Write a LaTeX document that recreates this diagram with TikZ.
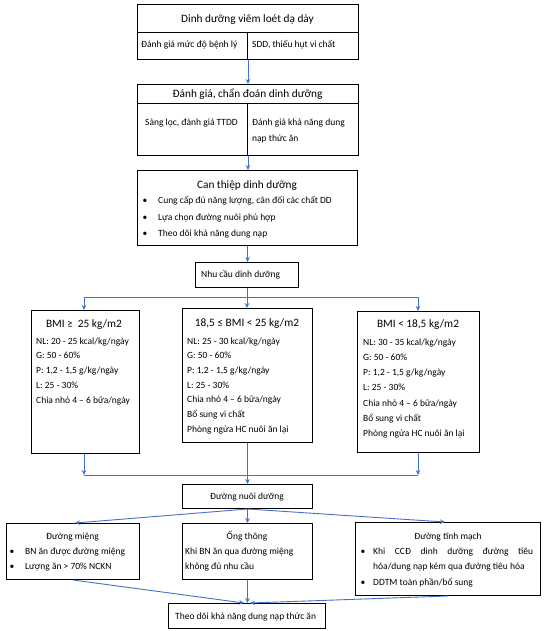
\documentclass[tikz,border=0pt]{standalone}
\usepackage{fontspec}
\setmainfont{Carlito}
\usetikzlibrary{arrows.meta}
\definecolor{arrowblue}{HTML}{4472C4}
\begin{document}
\begin{tikzpicture}[x=1pt,y=-1pt,
  box/.style={draw=black, line width=1pt, inner sep=0pt, anchor=north west, fill=white},
  conn/.style={draw=arrowblue, line width=0.9pt},
  arr/.style={conn, -{Stealth[length=5pt,width=4.5pt]}},
  txt/.style={inner sep=0pt, anchor=base west, font=\fontsize{9.5}{11}\selectfont},
  ctxt/.style={inner sep=0pt, anchor=base, font=\fontsize{9.5}{11}\selectfont},
  head/.style={inner sep=0pt, anchor=base, font=\fontsize{11.3}{13}\selectfont},
  bul/.style={inner sep=0pt, anchor=base, font=\fontsize{9.5}{11}\selectfont},
]
\path[use as bounding box, fill=white] (0,0) rectangle (544,631);

\coordinate (busL) at (84,297);
\coordinate (busR) at (418,297);
\coordinate (bus2L) at (84,475);
\coordinate (bus2R) at (418,475);

% ---------- Box 1 ----------
\node[box, minimum width=221, minimum height=28] (b1t) at (137,4) {};
\node[box, minimum width=110, minimum height=27] (b1l) at (137,32) {};
\node[box, minimum width=111, minimum height=27] (b1r) at (247,32) {};
\node[head] (t1) at (247.5,23) {Dinh dưỡng viêm loét dạ dày};
\node[txt] (t1a) at (141,48) {Đánh giá mức độ bệnh lý};
\node[txt] (t1b) at (252,48) {SDD, thiếu hụt vi chất};

% ---------- Box 2 ----------
\node[box, minimum width=221, minimum height=19] (b2t) at (137,84) {};
\node[box, minimum width=110, minimum height=52] (b2l) at (137,103) {};
\node[box, minimum width=111, minimum height=52] (b2r) at (247,103) {};
\node[head] (t2) at (247.5,98) {Đánh giá, chẩn đoán dinh dưỡng};
\node[txt] (t2a) at (145,126) {Sàng lọc, đánh giá TTDD};
\node[txt] (t2b) at (252,126) {Đánh giá khả năng dung};
\node[txt] (t2c) at (252,142) {nạp thức ăn};

% ---------- Box 3 ----------
\node[box, minimum width=220, minimum height=75] (b3) at (137,170) {};
\node[head] (t3) at (247,188) {Can thiệp dinh dưỡng};
\node[bul] (u31) at (145,204) {•};
\node[txt] (t31) at (158,204) {Cung cấp đủ năng lượng, cân đối các chất DD};
\node[bul] (u32) at (145,220) {•};
\node[txt] (t32) at (158,220) {Lựa chọn đường nuôi phù hợp};
\node[bul] (u33) at (145,236) {•};
\node[txt] (t33) at (158,236) {Theo dõi khả năng dung nạp};

% ---------- Box 4 ----------
\node[box, minimum width=103, minimum height=25] (b4) at (195,262) {};
\node[txt] (t4) at (201,277) {Nhu cầu dinh dưỡng};

% ---------- BMI boxes ----------
\node[box, minimum width=108, minimum height=143] (m1) at (31,310) {};
\node[head] (h1) at (84,327) {BMI ≥\ \ 25 kg/m2};
\foreach \s [count=\i from 0] in {NL: 20 - 25 kcal/kg/ngày, G: 50 - 60\%, P: 1{,}2 - 1{,}5 g/kg/ngày, L: 25 - 30\%, Chia nhỏ 4 – 6 bữa/ngày}
  \node[txt] (m1l\i) at (36,344+14.8*\i) {\s};

\node[box, minimum width=130, minimum height=134] (m2) at (182,308) {};
\node[head] (h2) at (247,326) {18,5 ≤ BMI < 25 kg/m2};
\foreach \s [count=\i from 0] in {NL: 25 - 30 kcal/kg/ngày, G: 50 - 60\%, P: 1{,}2 - 1{,}5 g/kg/ngày, L: 25 - 30\%, Chia nhỏ 4 – 6 bữa/ngày, Bổ sung vi chất, Phòng ngừa HC nuôi ăn lại}
  \node[txt] (m2l\i) at (187,344+14.7*\i) {\s};

\node[box, minimum width=122, minimum height=141] (m3) at (357,311) {};
\node[head] (h3) at (418,327) {BMI < 18,5 kg/m2};
\foreach \s [count=\i from 0] in {NL: 30 - 35 kcal/kg/ngày, G: 50 - 60\%, P: 1{,}2 - 1{,}5 g/kg/ngày, L: 25 - 30\%, Chia nhỏ 4 – 6 bữa/ngày, Bổ sung vi chất, Phòng ngừa HC nuôi ăn lại}
  \node[txt] (m3l\i) at (363,345+15.3*\i) {\s};

% ---------- Route box ----------
\node[box, minimum width=130, minimum height=24] (r) at (182,484) {};
\node[ctxt] (tr) at (247,499) {Đường nuôi dưỡng};

% ---------- Bottom boxes ----------
\node[box, minimum width=133, minimum height=56] (o1) at (6,523) {};
\node[ctxt] (ho1) at (72.5,539) {Đường miệng};
\node[bul] (u11) at (12,554) {•};
\node[txt] (o11) at (25,554) {BN ăn được đường miệng};
\node[bul] (u12) at (12,569) {•};
\node[txt] (o12) at (25,569) {Lượng ăn > 70\% NCKN};

\node[box, minimum width=130, minimum height=56] (o2) at (182,523) {};
\node[ctxt] (ho2) at (247,539) {Ống thông};
\node[txt] (o21) at (185,554) {Khi BN ăn qua đường miệng};
\node[txt] (o22) at (185,569) {không đủ nhu cầu};

\node[box, minimum width=185, minimum height=73] (o3) at (355,522) {};
\node[ctxt] (ho3) at (448,539) {Đường tĩnh mạch};
\node[bul] (u31b) at (363,554) {•};
\node[txt, anchor=base west, text width=160, align=justify] (o31) at (373,554) {Khi\hfill CCĐ\hfill dinh\hfill dưỡng\hfill đường\hfill tiêu};
\node[txt] (o32) at (373,569) {hóa/dung nạp kém qua đường tiêu hóa};
\node[bul] (u33b) at (363,585) {•};
\node[txt] (o33) at (373,585) {DDTM toàn phần/bổ sung};

% ---------- Final box ----------
\node[box, minimum width=157, minimum height=25] (f) at (168,603) {};
\node[txt] (tf) at (175,619) {Theo dõi khả năng dung nạp thức ăn};

% ---------- connectors ----------
\draw[arr] (b1l.south east) -- (b1l.south east |- b2t.north);
\draw[arr] (b2l.south east) -- (b2l.south east |- b3.north);
\draw[arr] (b3.south) -- (b3.south |- b4.north);
\draw[conn] (b4.south) -- (b4.south |- busL);
\draw[conn] (busL) -- (busR);
\draw[arr] (busL) -- (busL |- m1.north);
\draw[arr] (b4.south |- busL) -- (b4.south |- m2.north);
\draw[arr] (busR) -- (busR |- m3.north);

\draw[arr] (m1.south -| bus2L) -- (bus2L);
\draw[arr] (m3.south -| bus2R) -- (bus2R);
\draw[conn] (bus2L) -- (bus2R);
\draw[arr] (m2.south) -- (m2.south |- r.north);

\draw[arr] (r.south) -- (75,523);
\draw[arr] (r.south) -- (r.south |- o2.north);
\draw[arr] (r.south) -- (445,522);

\draw[arr] (o1.south) -- (244,603);
\draw[arr] (o2.south) -- (o2.south |- f.north);
\draw[arr] (o3.south) -- (250,603);
\end{tikzpicture}
\end{document}
